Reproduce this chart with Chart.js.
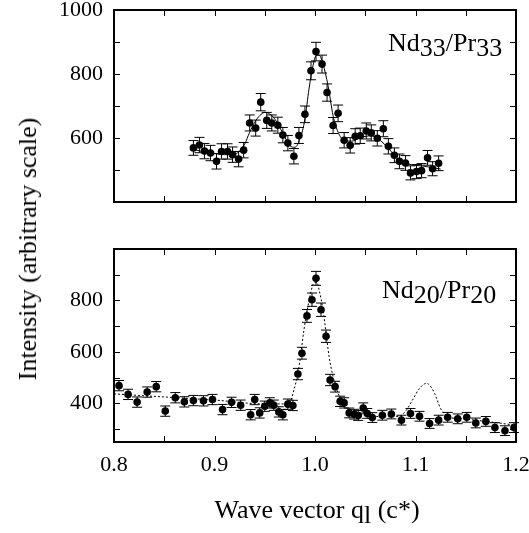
<!DOCTYPE html>
<html>
<head>
<meta charset="utf-8">
<script src="https://cdn.jsdelivr.net/npm/chart.js@4.4.1/dist/chart.umd.min.js"></script>
<style>
  html, body { margin: 0; padding: 0; background: #fff; }
  body { width: 529px; height: 533px; position: relative; overflow: hidden; font-family: "Liberation Serif", "DejaVu Serif", serif; color: #000; }
  canvas { position: absolute; left: 0; }
  .lbl { position: absolute; font-size: 26px; line-height: 26px; white-space: nowrap; }
  .lbl .s { position: relative; top: 5px; }
  #ytitle { position: absolute; left: 28px; top: 249px; font-size: 26px; line-height: 26px; white-space: nowrap;
            transform: translate(-50%, -50%) rotate(-90deg); }
  #xtitle { position: absolute; left: 317px; top: 497px; font-size: 26px; line-height: 26px; white-space: nowrap;
            transform: translateX(-50%); }
</style>
</head>
<body>
<canvas id="topChart" width="529" height="215" style="top:0"></canvas>
<canvas id="botChart" width="529" height="318" style="top:215px"></canvas>
<div class="lbl" style="left:388px; top:30px">Nd<span class="s">33</span>/Pr<span class="s">33</span></div>
<div class="lbl" style="left:382px; top:277px">Nd<span class="s">20</span>/Pr<span class="s">20</span></div>
<div id="ytitle">Intensity (arbitrary scale)</div>
<div id="xtitle">Wave vector q<span style="position:relative; top:5px">l</span> (c*)</div>
<script>
// Nd33/Pr33 data (top panel)
const qTop = [0.879, 0.885, 0.890, 0.896, 0.902, 0.907, 0.913, 0.918, 0.924, 0.929,
              0.935, 0.941, 0.946, 0.952, 0.957, 0.963, 0.968, 0.973, 0.979, 0.984,
              0.990, 0.996, 1.001, 1.007, 1.012, 1.018, 1.023, 1.029, 1.035, 1.040,
              1.045, 1.051, 1.056, 1.062, 1.068, 1.073, 1.079, 1.084, 1.090, 1.095,
              1.101, 1.106, 1.112, 1.117, 1.123];
const iTop = [569, 578, 559, 553, 527, 558, 558, 548, 534, 562,
              647, 631, 712, 655, 647, 640, 609, 584, 543, 608,
              674, 810, 870, 831, 742, 639, 677, 593, 577, 605,
              607, 622, 616, 599, 629, 574, 546, 527, 522, 491,
              495, 498, 538, 504, 521];
const eTop = [23, 24, 24, 24, 24, 24, 24, 24, 24, 24,
              25, 25, 27, 25, 25, 25, 24, 24, 24, 25,
              26, 28, 29, 28, 27, 25, 26, 24, 24, 24,
              24, 25, 25, 24, 25, 24, 23, 23, 23, 22,
              22, 22, 23, 22, 23];
const qTopFit = [0.879, 0.890, 0.900, 0.910, 0.921, 0.930, 0.935, 0.940, 0.945, 0.950,
                 0.955, 0.960, 0.965, 0.970, 0.975, 0.980, 0.985, 0.990, 0.994, 0.998,
                 1.001, 1.004, 1.008, 1.013, 1.018, 1.023, 1.029, 1.036, 1.046, 1.056,
                 1.062, 1.069, 1.076, 1.082, 1.089, 1.096, 1.106, 1.116, 1.125];
const iTopFit = [565, 556, 552, 548, 551, 581, 618, 649, 670, 680,
                 675, 659, 633, 602, 576, 571, 597, 659, 753, 826,
                 857, 859, 831, 763, 670, 618, 592, 590, 602, 607,
                 599, 581, 557, 536, 524, 516, 513, 508, 503];

// Nd20/Pr20 data (bottom panel)
const qBot = [0.805, 0.814, 0.823, 0.833, 0.842, 0.851, 0.861, 0.870, 0.879, 0.889,
              0.898, 0.908, 0.917, 0.926, 0.936, 0.940, 0.945, 0.950, 0.955, 0.959,
              0.964, 0.968, 0.973, 0.978, 0.983, 0.987, 0.992, 0.997, 1.001, 1.006,
              1.011, 1.015, 1.020, 1.025, 1.029, 1.034, 1.039, 1.043, 1.048, 1.052,
              1.057, 1.067, 1.076, 1.086, 1.095, 1.104, 1.114, 1.123, 1.132, 1.142,
              1.151, 1.160, 1.170, 1.179, 1.189, 1.198];
const iBot = [469, 435, 405, 444, 465, 370, 422, 406, 411, 410,
              415, 376, 404, 393, 356, 415, 363, 389, 402, 393,
              367, 356, 397, 392, 514, 595, 740, 803, 886, 764,
              661, 491, 465, 408, 402, 363, 358, 353, 382, 361,
              345, 354, 359, 335, 361, 350, 322, 335, 346, 340,
              346, 324, 330, 306, 294, 306];
const eBot = [20, 20, 20, 20, 20, 20, 20, 20, 20, 20,
              20, 20, 20, 20, 20, 20, 20, 20, 20, 20,
              20, 20, 20, 20, 22, 23, 25, 26, 27, 26,
              24, 22, 21, 20, 20, 19, 19, 19, 20, 19,
              19, 19, 19, 19, 19, 19, 19, 19, 19, 19,
              19, 19, 19, 19, 19, 19];
const qBotFit = [0.800, 0.850, 0.900, 0.950, 0.974, 0.979, 0.983, 0.986, 0.989, 0.993,
                 0.996, 0.999, 1.002, 1.004, 1.008, 1.011, 1.014, 1.018, 1.023, 1.029,
                 1.037, 1.051, 1.071, 1.084, 1.091, 1.097, 1.104, 1.111, 1.114, 1.119,
                 1.125, 1.132, 1.144, 1.170, 1.200];
const iBotFit = [437, 425, 413, 398, 398, 452, 517, 595, 686, 777,
                 835, 868, 870, 842, 764, 673, 582, 504, 439, 393,
                 367, 354, 348, 350, 374, 413, 458, 478, 471, 439,
                 380, 348, 341, 330, 315];

// axes
const xTicks = [0.8, 0.85, 0.9, 0.95, 1.0, 1.05, 1.1, 1.15, 1.2];
const xLabels = ['0.8', '0.9', '1.0', '1.1', '1.2'];
const yTicksTop = [400, 500, 600, 700, 800, 900, 1000];
const yLabelsTop = [600, 800, 1000];
const yTicksBot = [300, 400, 500, 600, 700, 800, 900];
const yLabelsBot = [400, 600, 800];

const FONT = { family: 'Liberation Serif', size: 22 };

function pts(xs, ys) {
    return xs.map((x, i) => ({ x: x, y: ys[i] }));
}

// frame with inward ticks on all four sides
const framePlugin = {
    id: 'frame',
    afterDraw(chart) {
        const ctx = chart.ctx;
        const a = chart.chartArea;
        const sx = chart.scales.x, sy = chart.scales.y;
        ctx.save();
        ctx.strokeStyle = '#000';
        ctx.lineWidth = 1;
        ctx.beginPath();
        sx.ticks.forEach(t => {
            const px = Math.round(sx.getPixelForValue(t.value)) + 0.5;
            if (px <= a.left + 2 || px >= a.right - 2) return;
            ctx.moveTo(px, a.bottom); ctx.lineTo(px, a.bottom - 6);
            ctx.moveTo(px, a.top); ctx.lineTo(px, a.top + 6);
        });
        sy.ticks.forEach(t => {
            const py = Math.round(sy.getPixelForValue(t.value)) + 0.5;
            if (py <= a.top + 2 || py >= a.bottom - 2) return;
            ctx.moveTo(a.left, py); ctx.lineTo(a.left + 6, py);
            ctx.moveTo(a.right, py); ctx.lineTo(a.right - 6, py);
        });
        ctx.stroke();
        ctx.lineWidth = 2;
        ctx.strokeRect(a.left, a.top, a.right - a.left, a.bottom - a.top);
        ctx.restore();
    }
};

// vertical error bars with caps, drawn under the points
const errorBarPlugin = {
    id: 'errorBars',
    beforeDatasetsDraw(chart) {
        const ctx = chart.ctx;
        const sx = chart.scales.x, sy = chart.scales.y;
        ctx.save();
        ctx.strokeStyle = '#000';
        ctx.lineWidth = 1;
        chart.data.datasets.forEach(ds => {
            if (!ds.errors) return;
            ctx.beginPath();
            ds.data.forEach((p, i) => {
                const px = sx.getPixelForValue(p.x);
                const y1 = sy.getPixelForValue(p.y + ds.errors[i]);
                const y2 = sy.getPixelForValue(p.y - ds.errors[i]);
                ctx.moveTo(px, y1); ctx.lineTo(px, y2);
                ctx.moveTo(px - 5, y1); ctx.lineTo(px + 5, y1);
                ctx.moveTo(px - 5, y2); ctx.lineTo(px + 5, y2);
            });
            ctx.stroke();
        });
        ctx.restore();
    }
};

function makeChart(id, cfg) {
    return new Chart(document.getElementById(id), {
        type: 'scatter',
        data: {
            datasets: [
                {
                    data: pts(cfg.q, cfg.i),
                    errors: cfg.e,
                    pointRadius: 3.8,
                    pointBackgroundColor: '#000',
                    pointBorderWidth: 0
                },
                {
                    data: pts(cfg.qFit, cfg.iFit),
                    showLine: true,
                    pointRadius: 0,
                    borderColor: '#000',
                    borderWidth: 1,
                    borderDash: cfg.dash,
                    cubicInterpolationMode: 'monotone'
                }
            ]
        },
        options: {
            responsive: false,
            animation: false,
            devicePixelRatio: 1,
            layout: { padding: { top: cfg.padTop, right: 13, left: 0, bottom: 0 } },
            plugins: { legend: { display: false }, tooltip: { enabled: false } },
            scales: {
                x: {
                    type: 'linear',
                    min: 0.8,
                    max: 1.2,
                    afterBuildTicks: s => { s.ticks = xTicks.map(v => ({ value: v })); },
                    afterFit: s => {
                        s.height = cfg.xHeight;
                        s.paddingLeft = 0; s.paddingRight = 0;
                        s.paddingTop = 0; s.paddingBottom = 0;
                    },
                    grid: { display: false, drawTicks: false },
                    border: { display: false },
                    ticks: {
                        display: cfg.xLabels,
                        padding: 10,
                        color: '#000',
                        font: FONT,
                        maxRotation: 0,
                        autoSkip: false,
                        callback: v => {
                            const s = v.toFixed(1);
                            return xLabels.includes(s) && Math.abs(v * 10 - Math.round(v * 10)) < 1e-6 ? s : '';
                        }
                    }
                },
                y: {
                    min: cfg.yMin,
                    max: 1000,
                    afterBuildTicks: s => { s.ticks = cfg.yTicks.map(v => ({ value: v })); },
                    afterFit: s => {
                        s.width = 114;
                        s.paddingLeft = 0; s.paddingRight = 0;
                        s.paddingTop = 0; s.paddingBottom = 0;
                    },
                    grid: { display: false, drawTicks: false },
                    border: { display: false },
                    ticks: {
                        padding: 11,
                        color: '#000',
                        font: FONT,
                        autoSkip: false,
                        callback: v => cfg.yLabels.includes(v) ? String(v) : ''
                    }
                }
            }
        },
        plugins: [errorBarPlugin, framePlugin]
    });
}

makeChart('topChart', {
    q: qTop, i: iTop, e: eTop, qFit: qTopFit, iFit: iTopFit, dash: [],
    padTop: 10, xHeight: 13, xLabels: false,
    yMin: 400, yTicks: yTicksTop, yLabels: yLabelsTop
});

makeChart('botChart', {
    q: qBot, i: iBot, e: eBot, qFit: qBotFit, iFit: iBotFit, dash: [2, 2],
    padTop: 34, xHeight: 91, xLabels: true,
    yMin: 250, yTicks: yTicksBot, yLabels: yLabelsBot
});
</script>
</body>
</html>
